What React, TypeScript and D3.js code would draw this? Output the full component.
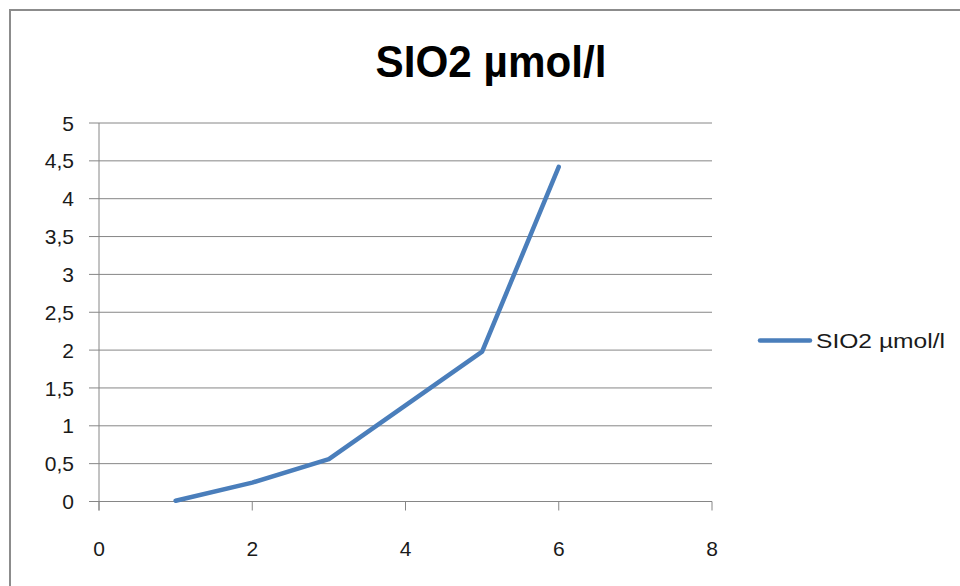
import React from "react";
import * as d3 from "d3";

const xValues = [1, 2, 3, 4, 5, 6];
const yValues = [0.01, 0.25, 0.56, 1.27, 1.98, 4.42];
const xTicks = [0, 2, 4, 6, 8];
const yTicks = [0, 0.5, 1, 1.5, 2, 2.5, 3, 3.5, 4, 4.5, 5];
const title = "SIO2 µmol/l";
const seriesName = "SIO2 µmol/l";

const W = 960;
const H = 586;
const FONT = "'Liberation Sans', Arial, sans-serif";

export default function App() {
  const x = d3.scaleLinear().domain([0, 8]).range([99, 712]);
  const y = d3.scaleLinear().domain([0, 5]).range([501.5, 123]);
  const pts = xValues.map((v, i) => [v, yValues[i]] as [number, number]);
  const line = d3
    .line<[number, number]>()
    .x((d) => x(d[0]))
    .y((d) => y(d[1]));
  const fmt = (v: number) => String(v).replace(".", ",");
  const grid = "#868686";
  return (
    <svg
      width={W}
      height={H}
      style={{ position: "absolute", left: 0, top: 0, background: "#fff" }}
    >
      <rect x={10} y={10} width={1000} height={700} fill="#fff" stroke="#8c8c8c" strokeWidth={2} />
      <text
        x={491}
        y={77}
        textAnchor="middle"
        fontFamily={FONT}
        fontWeight="bold"
        fontSize={44}
        fill="#000"
        textLength={231}
        lengthAdjust="spacingAndGlyphs"
      >
        {title}
      </text>
      {yTicks.map((t) => (
        <g key={"y" + t}>
          <line x1={89} x2={x(8)} y1={y(t)} y2={y(t)} stroke={grid} strokeWidth={1} />
          <text
            x={74}
            y={y(t)}
            dy="0.36em"
            textAnchor="end"
            fontFamily={FONT}
            fontSize={21}
            fill="#1a1a1a"
          >
            {fmt(t)}
          </text>
        </g>
      ))}
      <line x1={x(0)} x2={x(0)} y1={y(5)} y2={y(0) + 9} stroke={grid} strokeWidth={1} />
      {xTicks.map((t) => (
        <g key={"x" + t}>
          <line x1={x(t)} x2={x(t)} y1={y(0)} y2={y(0) + 9} stroke={grid} strokeWidth={1} />
          <text
            x={x(t)}
            y={548}
            dy="0.36em"
            textAnchor="middle"
            fontFamily={FONT}
            fontSize={21}
            fill="#1a1a1a"
          >
            {t}
          </text>
        </g>
      ))}
      <path
        d={line(pts) || ""}
        fill="none"
        stroke="#4a7ebb"
        strokeWidth={4.5}
        strokeLinecap="round"
        strokeLinejoin="round"
      />
      <line x1={760} x2={810} y1={340.5} y2={340.5} stroke="#4a7ebb" strokeWidth={4.5} strokeLinecap="round" />
      <text
        x={816}
        y={340.5}
        dy="0.36em"
        fontFamily={FONT}
        fontSize={21}
        fill="#1a1a1a"
        textLength={129}
        lengthAdjust="spacingAndGlyphs"
      >
        {seriesName}
      </text>
    </svg>
  );
}
